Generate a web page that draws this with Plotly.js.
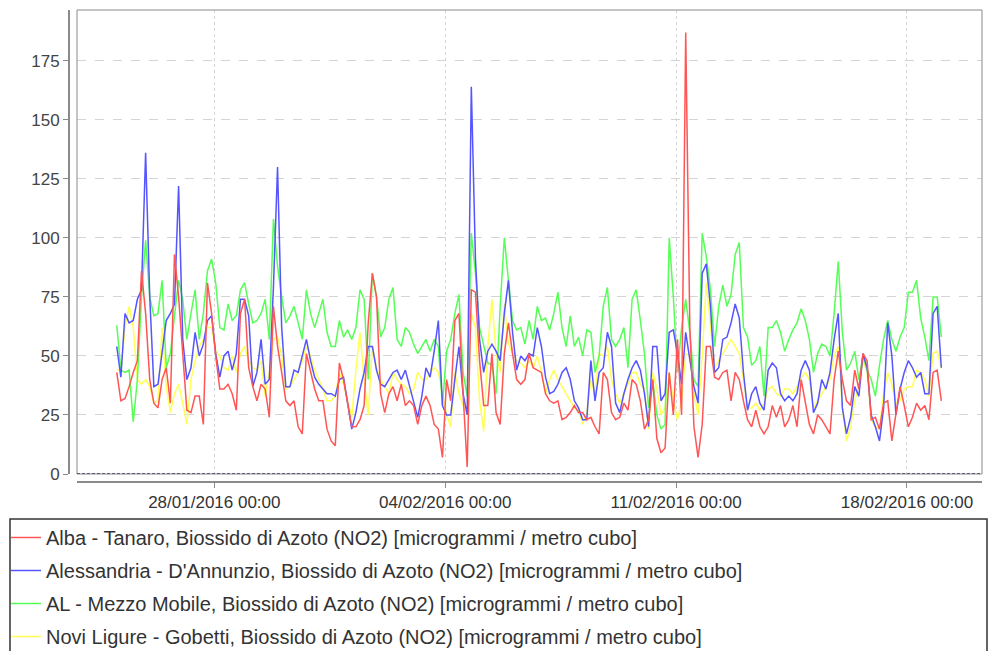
<!DOCTYPE html>
<html>
<head>
<meta charset="utf-8">
<script src="https://cdn.plot.ly/plotly-3.0.1.min.js"></script>
<style>html,body{margin:0;padding:0;background:#fff;}#chart{width:988px;height:651px;}</style>
</head>
<body>
<div id="chart"></div>
<script>
// Hourly NO2 series, read every 3 hours starting 25/01/2016 01:00
var startTime = '2016-01-25T01:00:00Z';
var stepHours = 3;

var seriesNames = [
  'Alba - Tanaro, Biossido di Azoto (NO2) [microgrammi / metro cubo]',
  "Alessandria - D'Annunzio, Biossido di Azoto (NO2) [microgrammi / metro cubo]",
  'AL - Mezzo Mobile, Biossido di Azoto (NO2) [microgrammi / metro cubo]',
  'Novi Ligure - Gobetti, Biossido di Azoto (NO2) [microgrammi / metro cubo]'
];

var alba = [43,31,32,37,43,48,86,68,40,30,28,40,45,30,93,75,51,27,26,33,33,21,81,68,50,36,36,38,34,27,68,74,45,
  37,31,38,36,24,71,54,43,31,29,31,20,17,51,43,36,31,31,19,14,12,47,40,30,20,20,23,29,64,85,75,34,26,34,
  37,31,38,29,31,29,21,29,33,29,21,19,7,40,31,65,68,34,3,78,77,48,29,29,51,26,21,51,64,51,40,38,40,51,
  45,44,43,34,31,30,31,23,24,26,29,26,26,23,24,20,17,43,40,26,23,24,30,27,40,38,31,19,23,40,15,9,11,43,
  25,57,25,187,62,20,7,21,54,54,41,40,43,44,31,43,40,31,23,20,27,20,17,20,29,24,29,20,23,29,20,40,30,21,
  17,25,23,20,17,40,52,40,31,29,44,36,51,48,23,24,19,30,31,14,25,37,29,20,24,30,27,29,23,43,44,31];

var alessandria = [54,41,68,64,65,74,78,136,75,37,38,51,65,68,72,122,57,40,45,60,50,55,65,67,51,41,50,52,44,51,74,74,67,
  37,43,57,38,40,79,130,62,37,37,44,43,50,57,48,41,38,36,34,34,33,40,41,30,19,26,36,43,54,54,44,38,37,40,
  43,44,40,44,37,30,24,33,45,41,52,65,29,25,25,40,54,34,25,164,91,57,43,52,55,52,48,68,82,60,44,50,48,51,
  50,62,54,41,34,35,38,43,45,40,31,28,23,23,48,31,43,45,60,54,30,26,34,40,45,48,44,34,20,54,54,31,34,60,
  61,51,38,60,48,37,30,85,89,71,43,45,57,58,64,72,66,43,27,34,37,30,27,44,47,45,34,31,33,31,34,44,48,44,
  26,30,40,36,43,57,68,28,17,24,37,33,51,45,25,20,14,28,64,50,25,36,43,48,45,41,43,34,34,68,71,45];

var mezzoMobile = [63,44,43,44,22,40,75,99,75,67,68,82,45,51,67,82,74,57,68,78,57,68,86,91,81,62,61,72,65,67,78,81,72,
  64,65,68,74,57,108,88,75,64,67,71,64,57,78,68,62,68,74,60,54,54,65,58,61,57,62,78,74,40,85,75,58,62,74,
  79,57,54,62,60,55,51,54,57,52,57,54,29,52,57,68,76,43,33,102,85,62,54,47,46,34,71,100,82,65,61,62,55,65,
  57,71,65,66,61,68,77,62,54,67,54,58,50,61,60,43,50,71,79,57,54,57,62,45,74,78,65,51,28,40,25,19,21,100,
  75,43,62,74,60,40,37,102,92,78,54,71,80,71,76,93,98,62,58,46,48,54,33,62,62,65,60,52,57,61,64,70,65,57,
  43,51,55,54,50,68,90,60,44,47,52,40,50,44,40,33,46,57,65,57,52,58,62,77,77,82,66,58,48,75,75,58];

var noviLigure = [44,44,62,71,62,40,38,40,37,30,31,62,37,26,34,38,30,21,40,48,54,57,62,62,52,50,45,44,50,43,51,54,48,
  45,44,48,33,43,57,58,50,36,37,40,43,48,54,50,44,40,36,31,31,33,43,38,31,24,44,60,40,25,54,45,40,37,34,
  43,40,38,37,34,36,43,40,40,43,45,43,34,25,20,43,34,29,25,68,62,31,18,54,74,51,43,72,55,51,48,47,45,48,
  45,50,43,34,40,44,40,37,34,31,28,27,21,26,40,34,51,50,54,40,34,30,34,38,43,43,38,36,19,43,36,25,28,43,
  31,23,31,51,50,34,25,50,81,62,45,48,51,54,57,54,51,40,28,28,30,27,30,36,37,34,33,36,36,34,37,41,43,40,
  28,31,34,37,40,50,54,28,14,20,31,37,48,43,23,20,19,34,43,38,30,31,36,37,37,44,43,40,33,51,52,45];

var xTickVals = ['2016-01-28 00:00', '2016-02-04 00:00', '2016-02-11 00:00', '2016-02-18 00:00'];
var xTickText = ['28/01/2016 00:00', '04/02/2016 00:00', '11/02/2016 00:00', '18/02/2016 00:00'];
var yTickVals = [0, 25, 50, 75, 100, 125, 150, 175];

var seriesColors = ['#ff5555', '#5555ff', '#55ff55', '#ffff55'];

function timeAxis(n) {
  var t0 = Date.parse(startTime);
  var out = [];
  for (var i = 0; i < n; i++) out.push(t0 + i * stepHours * 3600000);
  return out;
}

var allSeries = [alba, alessandria, mezzoMobile, noviLigure];
var traces = [];
// draw last series first so the first series sits on top
for (var s = allSeries.length - 1; s >= 0; s--) {
  traces.push({
    type: 'scatter', mode: 'lines',
    x: timeAxis(allSeries[s].length), y: allSeries[s],
    name: seriesNames[s], legendrank: s + 1, legendgroup: 'g' + s,
    line: {color: seriesColors[s], width: 1.5},
    hoverinfo: 'skip'
  });
}

var fnt = 'Liberation Sans, Arial, sans-serif';
var plotW = 988 - 69 - 6, plotH = 651 - 10 - 169;

var layout = {
  width: 988, height: 651,
  margin: {l: 69, r: 6, t: 10, b: 169, autoexpand: false},
  paper_bgcolor: '#ffffff', plot_bgcolor: '#ffffff',
  showlegend: true,
  legend: {
    x: (6 - 69) / plotW, xanchor: 'left',
    y: (482 - 518) / plotH, yanchor: 'top',
    bgcolor: 'rgba(0,0,0,0)', borderwidth: 0,
    font: {family: fnt, size: 20, color: '#333'},
    tracegroupgap: 4, itemwidth: 30
  },
  xaxis: {
    type: 'date',
    domain: [8 / plotW, 1],
    anchor: 'free', position: 0,
    range: ['2016-01-23 20:04', '2016-02-20 06:36'],
    tickmode: 'array', tickvals: xTickVals, ticktext: xTickText,
    showgrid: true, gridcolor: '#d4d4d4', griddash: 'dot', gridwidth: 1,
    zeroline: false,
    showline: true, linecolor: '#8a8a8a', linewidth: 2,
    ticks: 'outside', ticklen: 5, tickcolor: '#8a8a8a', tickwidth: 1,
    tickfont: {family: fnt, size: 17, color: '#333'}
  },
  yaxis: {
    domain: [8 / plotH, 1],
    anchor: 'free', position: 0,
    range: [0, 196.5],
    tickmode: 'array', tickvals: yTickVals,
    showgrid: true, gridcolor: '#d4d4d4', griddash: 'dash', gridwidth: 1,
    zeroline: false,
    showline: true, linecolor: '#8a8a8a', linewidth: 2,
    ticks: 'outside', ticklen: 5, tickcolor: '#8a8a8a', tickwidth: 1,
    tickfont: {family: fnt, size: 17, color: '#444'}
  },
  shapes: [
    {type: 'rect', xref: 'x domain', yref: 'y domain', x0: 0, x1: 1, y0: 0, y1: 1,
     line: {color: '#8a8a8a', width: 1}, layer: 'above'},
    {type: 'line', xref: 'x domain', yref: 'y', x0: 0, x1: 1, y0: 0, y1: 0,
     line: {color: '#3a3a70', width: 1.5, dash: '3px,2px'}, layer: 'above'},
    {type: 'rect', xref: 'paper', yref: 'paper',
     x0: (10 - 69) / plotW, x1: (987 - 69) / plotW,
     y0: (482 - 660) / plotH, y1: (482 - 519) / plotH,
     line: {color: '#333', width: 1.5}, fillcolor: 'rgba(0,0,0,0)', layer: 'below'}
  ]
};

Plotly.newPlot('chart', traces, layout, {displayModeBar: false, staticPlot: true});
</script>
</body>
</html>
